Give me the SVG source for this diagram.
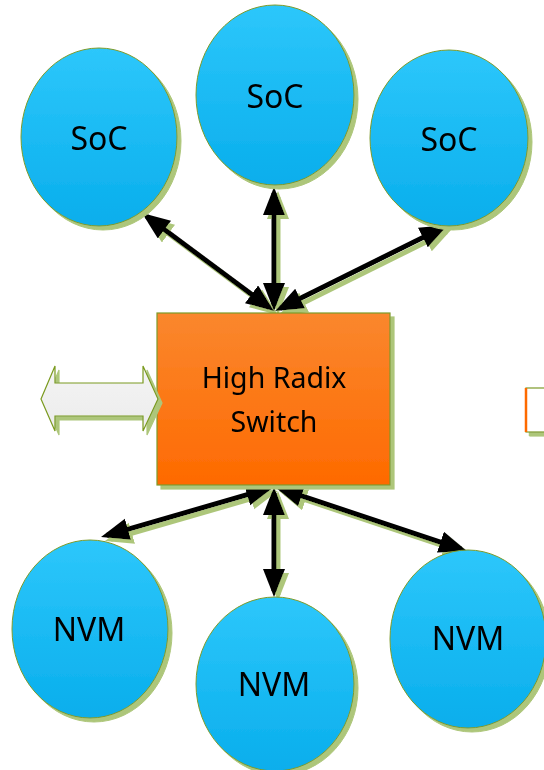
<svg xmlns="http://www.w3.org/2000/svg" width="544" height="770" viewBox="0 0 544 770">
  <style>
    .ball { fill: url(#blue); stroke: #7d9a2a; stroke-width: 1; }
    .label { font-family: "Noto Sans", "Open Sans", sans-serif; fill: #000; text-anchor: middle; }
    .big { font-size: 32px; }
    .sw { font-size: 28.5px; }
    .link { stroke: #000; stroke-width: 5; fill: none; marker-start: url(#head); marker-end: url(#head); }
  </style>
  <defs>
    <linearGradient id="blue" x1="0" y1="0" x2="0" y2="1">
      <stop offset="0" stop-color="#2dc7fb"/>
      <stop offset="1" stop-color="#09aeec"/>
    </linearGradient>
    <linearGradient id="orange" x1="0" y1="0" x2="0" y2="1">
      <stop offset="0" stop-color="#fa872e"/>
      <stop offset="1" stop-color="#fe6a00"/>
    </linearGradient>
    <linearGradient id="pale" x1="0" y1="0" x2="0" y2="1">
      <stop offset="0" stop-color="#f4f4f4"/>
      <stop offset="1" stop-color="#ececec"/>
    </linearGradient>
    <filter id="shadow" x="-10%" y="-10%" width="130%" height="130%">
      <feOffset in="SourceAlpha" dx="4" dy="4" result="off"/>
      <feGaussianBlur in="off" stdDeviation="0.6" result="soft"/>
      <feFlood flood-color="#adc67a"/>
      <feComposite in2="soft" operator="in" result="tint"/>
      <feMerge>
        <feMergeNode in="tint"/>
        <feMergeNode in="SourceGraphic"/>
      </feMerge>
    </filter>
    <marker id="head" markerUnits="userSpaceOnUse" markerWidth="30" markerHeight="24" refX="22" refY="11" orient="auto-start-reverse">
      <path d="M0,0 L28,11 L0,22 Z" fill="#000"/>
    </marker>
  </defs>

  <!-- links between the switch and the nodes -->
  <g id="connectors" filter="url(#shadow)">
    <line class="link" x1="269.2" y1="307.4" x2="146.8" y2="216.6"/>
    <line class="link" x1="274" y1="305" x2="274" y2="193"/>
    <line class="link" x1="280.4" y1="308.3" x2="442.6" y2="227.7"/>
    <line class="link" x1="268.2" y1="488.7" x2="106.8" y2="535.3"/>
    <line class="link" x1="274" y1="493" x2="274" y2="591"/>
    <line class="link" x1="280.7" y1="488.9" x2="461.3" y2="549.1"/>
  </g>

  <g id="soc-left" filter="url(#shadow)">
    <ellipse class="ball" cx="99" cy="137" rx="78" ry="89"/>
    <text class="label big" x="99" y="150">SoC</text>
  </g>
  <g id="soc-top" filter="url(#shadow)">
    <ellipse class="ball" cx="275" cy="95" rx="79" ry="90"/>
    <text class="label big" x="275" y="108">SoC</text>
  </g>
  <g id="soc-right" filter="url(#shadow)">
    <ellipse class="ball" cx="449" cy="138" rx="79" ry="88"/>
    <text class="label big" x="449" y="151">SoC</text>
  </g>

  <g id="nvm-left" filter="url(#shadow)">
    <ellipse class="ball" cx="90" cy="629" rx="78" ry="89"/>
    <text class="label big" x="89" y="641">NVM</text>
  </g>
  <g id="nvm-middle" filter="url(#shadow)">
    <ellipse class="ball" cx="275" cy="684" rx="79" ry="87"/>
    <text class="label big" x="274" y="696">NVM</text>
  </g>
  <g id="nvm-right" filter="url(#shadow)">
    <ellipse class="ball" cx="468" cy="639" rx="78" ry="89"/>
    <text class="label big" x="468" y="650">NVM</text>
  </g>

  <g id="switch" filter="url(#shadow)">
    <rect x="157" y="313" width="233" height="172" fill="url(#orange)" stroke="#7d9a2a" stroke-width="1.2"/>
    <text class="label sw" x="274" y="388">High Radix</text>
    <text class="label sw" x="274" y="432">Switch</text>
  </g>

  <g id="io-arrow" filter="url(#shadow)">
    <polygon points="41,399 55,366 55,383 143,383 143,366 158,399 143,431 143,416 55,416 55,431" fill="url(#pale)" stroke="#7a9a1e" stroke-width="1.2" stroke-linejoin="miter"/>
  </g>

  <g id="side-box" filter="url(#shadow)">
    <rect x="526" y="388" width="40" height="44" fill="#fff" stroke="#7d9a2a" stroke-width="1.2"/>
    <line x1="526" y1="388" x2="526" y2="432" stroke="#fe6a00" stroke-width="2.5"/>
  </g>
</svg>
